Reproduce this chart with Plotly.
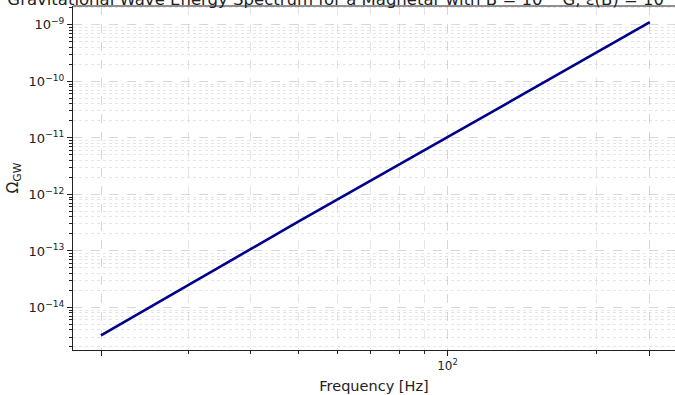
import plotly.graph_objects as go

# Data (straight power law on log-log axes)
frequency_hz = [20, 50, 100, 200, 256]
omega_gw = [3.2e-15, 3.3e-13, 1.03e-11, 3.25e-10, 1.12e-9]

# Tick definitions
x_major_vals = [20, 100, 256]
x_major_text = ["", "10<sup>2</sup>", ""]
x_minor_vals = [30, 40, 50, 60, 70, 80, 90, 200]
y_major_exp = [-14, -13, -12, -11, -10, -9]
y_major_vals = [10.0 ** e for e in y_major_exp]
y_major_text = ["10<sup>\u2212%d</sup>" % (-e) for e in y_major_exp]
y_minor_vals = [k * 10.0 ** e for e in range(-15, -8) for k in range(2, 10)]

title_text = ("Gravitational Wave Energy Spectrum for a Magnetar with B = 10<sup>15</sup> G, "
              "\u03b5(B) = 10<sup>\u22124</sup>")

fig = go.Figure()
fig.add_trace(go.Scatter(
    x=frequency_hz, y=omega_gw, mode="lines",
    line=dict(color="#00008B", width=2.6), showlegend=False,
))

font = "DejaVu Sans, Arial, sans-serif"
grid_major = "rgba(175,175,175,0.5)"
grid_minor = "rgba(190,190,190,0.4)"

fig.update_layout(
    width=675, height=395,
    margin=dict(l=73, r=0, t=6, b=45),
    paper_bgcolor="white", plot_bgcolor="white",
    font=dict(family=font, size=13, color="#222"),
    title=dict(text=title_text, font=dict(size=16.5, color="#222"),
               x=0.51, xanchor="center", xref="container",
               y=1 - 5 / 395, yanchor="bottom", yref="container"),
)

fig.update_xaxes(
    type="log", range=[1.2445, 2.459],
    tickmode="array", tickvals=x_major_vals, ticktext=x_major_text,
    ticks="outside", ticklen=5, tickwidth=1.1, tickcolor="#222",
    showgrid=True, gridcolor=grid_major, griddash="dash", gridwidth=0.8,
    minor=dict(tickmode="array", tickvals=x_minor_vals, ticks="outside",
               ticklen=3, tickwidth=1, tickcolor="#222",
               showgrid=True, gridcolor=grid_minor, griddash="dash", gridwidth=0.7),
    showline=True, linecolor="#222", linewidth=1.1, mirror=False,
    zeroline=False,
    title=dict(text="Frequency [Hz]", font=dict(size=14.5), standoff=8),
    tickfont=dict(size=12),
)

fig.update_yaxes(
    type="log", range=[-14.753, -8.665],
    tickmode="array", tickvals=y_major_vals, ticktext=y_major_text,
    ticks="outside", ticklen=5, tickwidth=1.1, tickcolor="#222",
    showgrid=True, gridcolor=grid_major, griddash="dash", gridwidth=0.8,
    minor=dict(tickmode="array", tickvals=y_minor_vals, ticks="outside",
               ticklen=3, tickwidth=1, tickcolor="#222",
               showgrid=True, gridcolor=grid_minor, griddash="dot", gridwidth=0.7),
    showline=True, linecolor="#222", linewidth=1.1, mirror=False,
    zeroline=False,
    title=dict(text="\u03a9<sub>GW</sub>", font=dict(size=15.5), standoff=6),
    tickfont=dict(size=13),
)

# top spine
fig.add_shape(type="line", xref="paper", yref="paper", x0=0, x1=1, y0=1, y1=1,
              line=dict(color="#222", width=1.1))

fig.write_html("out.html")
